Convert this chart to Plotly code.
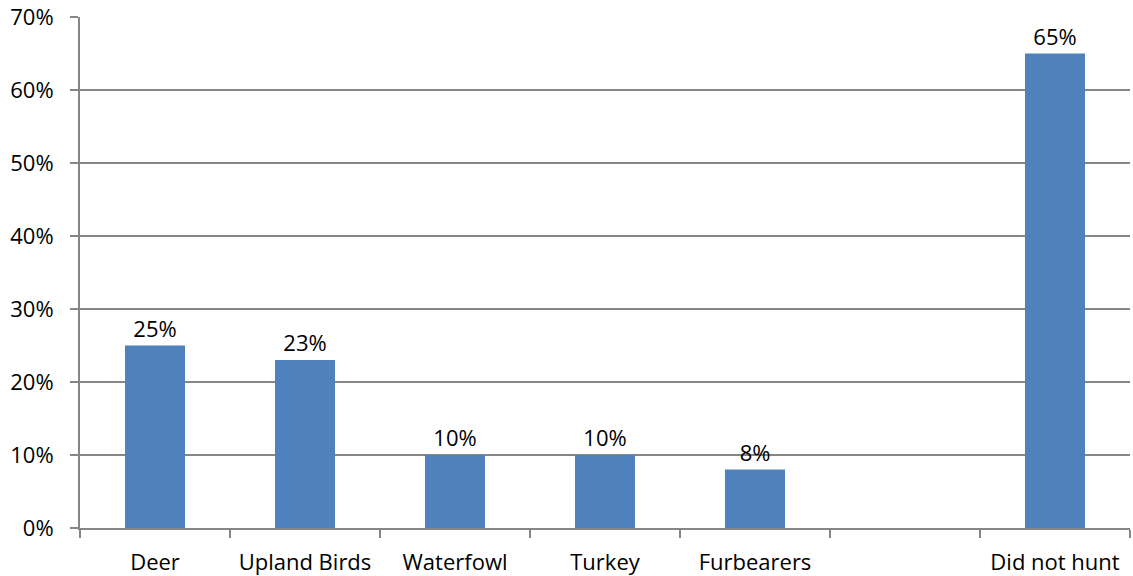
import plotly.graph_objects as go

categories = ["Deer", "Upland Birds", "Waterfowl", "Turkey", "Furbearers", " ", "Did not hunt"]
values = [25, 23, 10, 10, 8, None, 65]
labels = ["25%", "23%", "10%", "10%", "8%", "", "65%"]
y_ticks = [0, 10, 20, 30, 40, 50, 60, 70]
y_tick_labels = ["0%", "10%", "20%", "30%", "40%", "50%", "60%", "70%"]

grid = "#868686"
font = "'Open Sans', sans-serif"
fs = 22

fig = go.Figure(go.Bar(
    x=categories, y=values, text=labels, textposition="outside",
    marker=dict(color="#4F81BD", line=dict(width=0)),
    textfont=dict(size=fs, color="#000000", family=font),
    width=0.4, cliponaxis=False,
))

fig.update_layout(
    width=1133, height=576,
    margin=dict(l=80, r=3, t=17, b=48, autoexpand=False),
    plot_bgcolor="white", paper_bgcolor="white",
    showlegend=False,
    font=dict(family=font, size=fs, color="#000000"),
    xaxis=dict(
        type="category", tickson="boundaries", ticks="outside", ticklen=8,
        tickcolor=grid, tickwidth=2, showline=True, linecolor=grid, linewidth=2,
        showgrid=False, tickfont=dict(size=fs), ticklabelstandoff=14,
        automargin=False, ticklabeloverflow="allow",
    ),
    yaxis=dict(
        range=[0, 70], tickvals=y_ticks, ticktext=y_tick_labels,
        ticks="outside", ticklen=8, tickcolor=grid, tickwidth=2,
        showline=True, linecolor=grid, linewidth=2,
        showgrid=True, gridcolor=grid, gridwidth=2, zeroline=False,
        tickfont=dict(size=fs), ticklabelstandoff=12, automargin=False,
        ticklabeloverflow="allow",
    ),
)

fig.write_html(
    "out.html",
    config={"displayModeBar": False},
    post_script="document.body.style.margin='0';document.body.style.overflow='hidden';",
)
